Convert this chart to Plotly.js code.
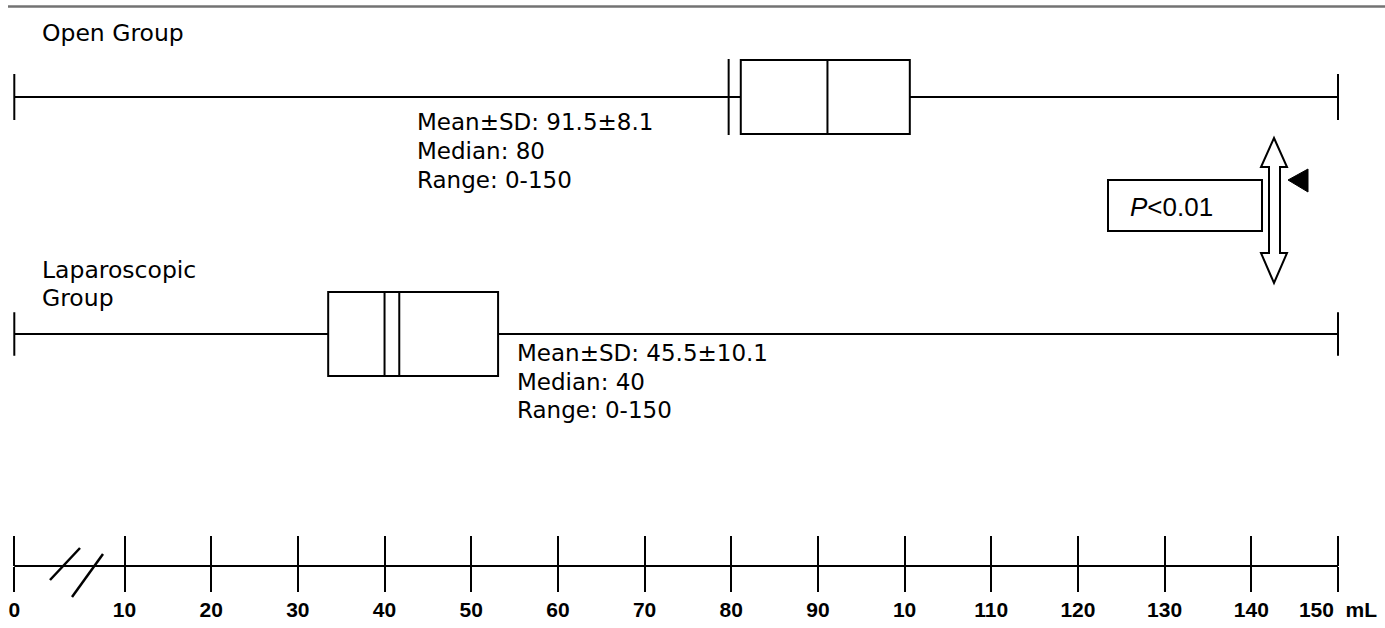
<!DOCTYPE html>
<html><head><meta charset="utf-8">
<script src="https://cdn.plot.ly/plotly-3.0.1.min.js"></script>
<style>html,body{margin:0;padding:0;background:#fff;} #chart{width:1385px;height:628px;}</style>
</head><body><div id="chart"></div>
<script>
// ---------- data ----------
const groups = ["Open", "Laparoscopic"];
const groupLabels = [["Open Group"], ["Laparoscopic", "Group"]];
const lowerWhisker = [0, 0];
const boxLow = [81.1, 33.5];
const medianMark = [79.7, 40];
const centerMark = [91.1, 41.7];
const boxHigh = [100.6, 53.1];
const upperWhisker = [150, 150];
const openStats = ["Mean±SD: 91.5±8.1", "Median: 80", "Range: 0-150"];
const lapStats = ["Mean±SD: 45.5±10.1", "Median: 40", "Range: 0-150"];
const tickValues = [0, 10, 20, 30, 40, 50, 60, 70, 80, 90, 100, 110, 120, 130, 140, 150];
const tickLabels = ["0", "10", "20", "30", "40", "50", "60", "70", "80", "90", "10", "110", "120", "130", "140", "150\u00a0\u00a0mL"];
const pText = "<i>P</i>&lt;0.01";

// ---------- layout geometry ----------
const W = 1385, H = 628;
const fx = px => px / W;
const fy = py => 1 - py / H;
const X0 = 14.3, X10 = 124.5, X150 = 1338;
const ppu = (X150 - X10) / 140;                    // pixels per mL beyond the break
const xr = [10 - X10 / ppu, 10 + (W - X10) / ppu];
const brkFactor = (X10 - X0) / ppu / 10;           // stretched 0-10 segment (axis break)
const brk = v => v >= 10 ? v : 10 - (10 - v) * brkFactor;
const axisY = 566;
const rowPx = [97, 334];
const boxPx = [74, 84];
const capFrac = [0.62, 0.52];
const ypp = rowPx[1] - rowPx[0];
const yr = [(H - rowPx[0]) / ypp, -rowPx[0] / ypp];

const txtFont = {family: "DejaVu Sans", size: 23, color: "#000"};

const traces = groups.map((g, i) => ({
  type: "box", orientation: "h", name: g, y: [i],
  q1: [brk(boxLow[i])], median: [brk(centerMark[i])], q3: [brk(boxHigh[i])],
  lowerfence: [brk(lowerWhisker[i])], upperfence: [brk(upperWhisker[i])],
  width: boxPx[i] / ypp, whiskerwidth: capFrac[i],
  line: {color: "#000", width: 2}, fillcolor: "rgba(255,255,255,0)",
  boxpoints: false, hoverinfo: "skip", showlegend: false
}));
// carrier trace so the overlaid tick axis (x2) is drawn; its points sit outside the y range
traces.push({type: "scatter", mode: "markers", x: [brk(tickValues[0]), brk(tickValues[tickValues.length - 1])],
  y: [-5, -5], xaxis: "x2", yaxis: "y", marker: {opacity: 0}, hoverinfo: "skip", showlegend: false});

const shapes = [];
// top rule
shapes.push({type: "line", xref: "paper", yref: "paper", x0: fx(8), x1: 1, y0: fy(6.5), y1: fy(6.5),
  line: {color: "#737373", width: 2.5}});
// median marks (full box height)
groups.forEach((g, i) => {
  const h = boxPx[i] / ypp / 2 + 1 / ypp;
  shapes.push({type: "line", xref: "x", yref: "y", x0: brk(medianMark[i]), x1: brk(medianMark[i]),
    y0: i - h, y1: i + h, line: {color: "#000", width: 2}});
});
// axis baseline from first to last tick
shapes.push({type: "line", xref: "x", yref: "paper", x0: brk(tickValues[0]), x1: brk(tickValues[tickValues.length - 1]),
  y0: fy(axisY), y1: fy(axisY), line: {color: "#000", width: 2}});
// axis break marks
shapes.push({type: "line", xref: "paper", yref: "paper", x0: fx(50), y0: fy(580), x1: fx(80), y1: fy(548), line: {color: "#000", width: 2.5}});
shapes.push({type: "line", xref: "paper", yref: "paper", x0: fx(72), y0: fy(597), x1: fx(103), y1: fy(554), line: {color: "#000", width: 2.5}});
// P value box
shapes.push({type: "rect", xref: "paper", yref: "paper", x0: fx(1108), x1: fx(1262), y0: fy(180), y1: fy(231),
  line: {color: "#000", width: 2}, fillcolor: "rgba(0,0,0,0)"});
// hollow double arrow
const arrowPts = [[1274,138],[1287,167],[1280,167],[1280,253],[1287,253],[1274,283],[1261,253],[1269,253],[1269,167],[1261,167]];
shapes.push({type: "path", xref: "paper", yref: "paper",
  path: "M" + arrowPts.map(p => fx(p[0]) + "," + fy(p[1])).join("L") + "Z",
  line: {color: "#000", width: 2}, fillcolor: "rgba(255,255,255,0)"});
// filled pointer triangle
const triPts = [[1288,180],[1308,169],[1308,192]];
shapes.push({type: "path", xref: "paper", yref: "paper",
  path: "M" + triPts.map(p => fx(p[0]) + "," + fy(p[1])).join("L") + "Z",
  line: {color: "#000", width: 1}, fillcolor: "#000"});

const annotations = [];
const addText = (text, xpx, ypx, font) => annotations.push({
  text: text, xref: "paper", yref: "paper", x: fx(xpx), y: fy(ypx),
  xanchor: "left", yanchor: "middle", showarrow: false, font: font || txtFont, borderpad: 0
});
const groupFont = {family: "DejaVu Sans", size: 23.5, color: "#000"};
addText(groupLabels[0][0], 41, 33, groupFont);
addText(groupLabels[1][0], 41, 270, groupFont);
addText(groupLabels[1][1], 41, 298, groupFont);
const openY = [122, 151, 180];
const lapY = [353, 382, 410];
openStats.forEach((s, k) => addText(s, 416, openY[k]));
lapStats.forEach((s, k) => addText(s, 516, lapY[k]));
addText(pText, 1129, 207, {family: "Liberation Sans, Arial", size: 26, color: "#000"});

const tickFont = {family: "Liberation Sans, Arial", size: 21, color: "#000", weight: "bold"};
const layout = {
  width: W, height: H,
  margin: {l: 0, r: 0, t: 0, b: 0, pad: 0},
  paper_bgcolor: "#fff", plot_bgcolor: "#fff",
  showlegend: false,
  xaxis: {range: xr, anchor: "free", position: 1 - axisY / H, showline: false,
    ticks: "outside", ticklen: 25, tickwidth: 2, tickcolor: "#000",
    tickmode: "array", tickvals: tickValues.map(brk), ticktext: tickLabels,
    tickfont: tickFont, showgrid: false, zeroline: false, fixedrange: true},
  xaxis2: {range: xr, overlaying: "x", anchor: "free", position: 1 - axisY / H, side: "bottom",
    ticks: "inside", ticklen: 30, tickwidth: 2, tickcolor: "#000",
    tickmode: "array", tickvals: tickValues.map(brk), showticklabels: false,
    showline: false, showgrid: false, zeroline: false, fixedrange: true},
  yaxis: {range: yr, visible: false, showgrid: false, zeroline: false, fixedrange: true},
  shapes: shapes,
  annotations: annotations
};

Plotly.newPlot("chart", traces, layout, {staticPlot: true, displayModeBar: false});
</script>
</body></html>
